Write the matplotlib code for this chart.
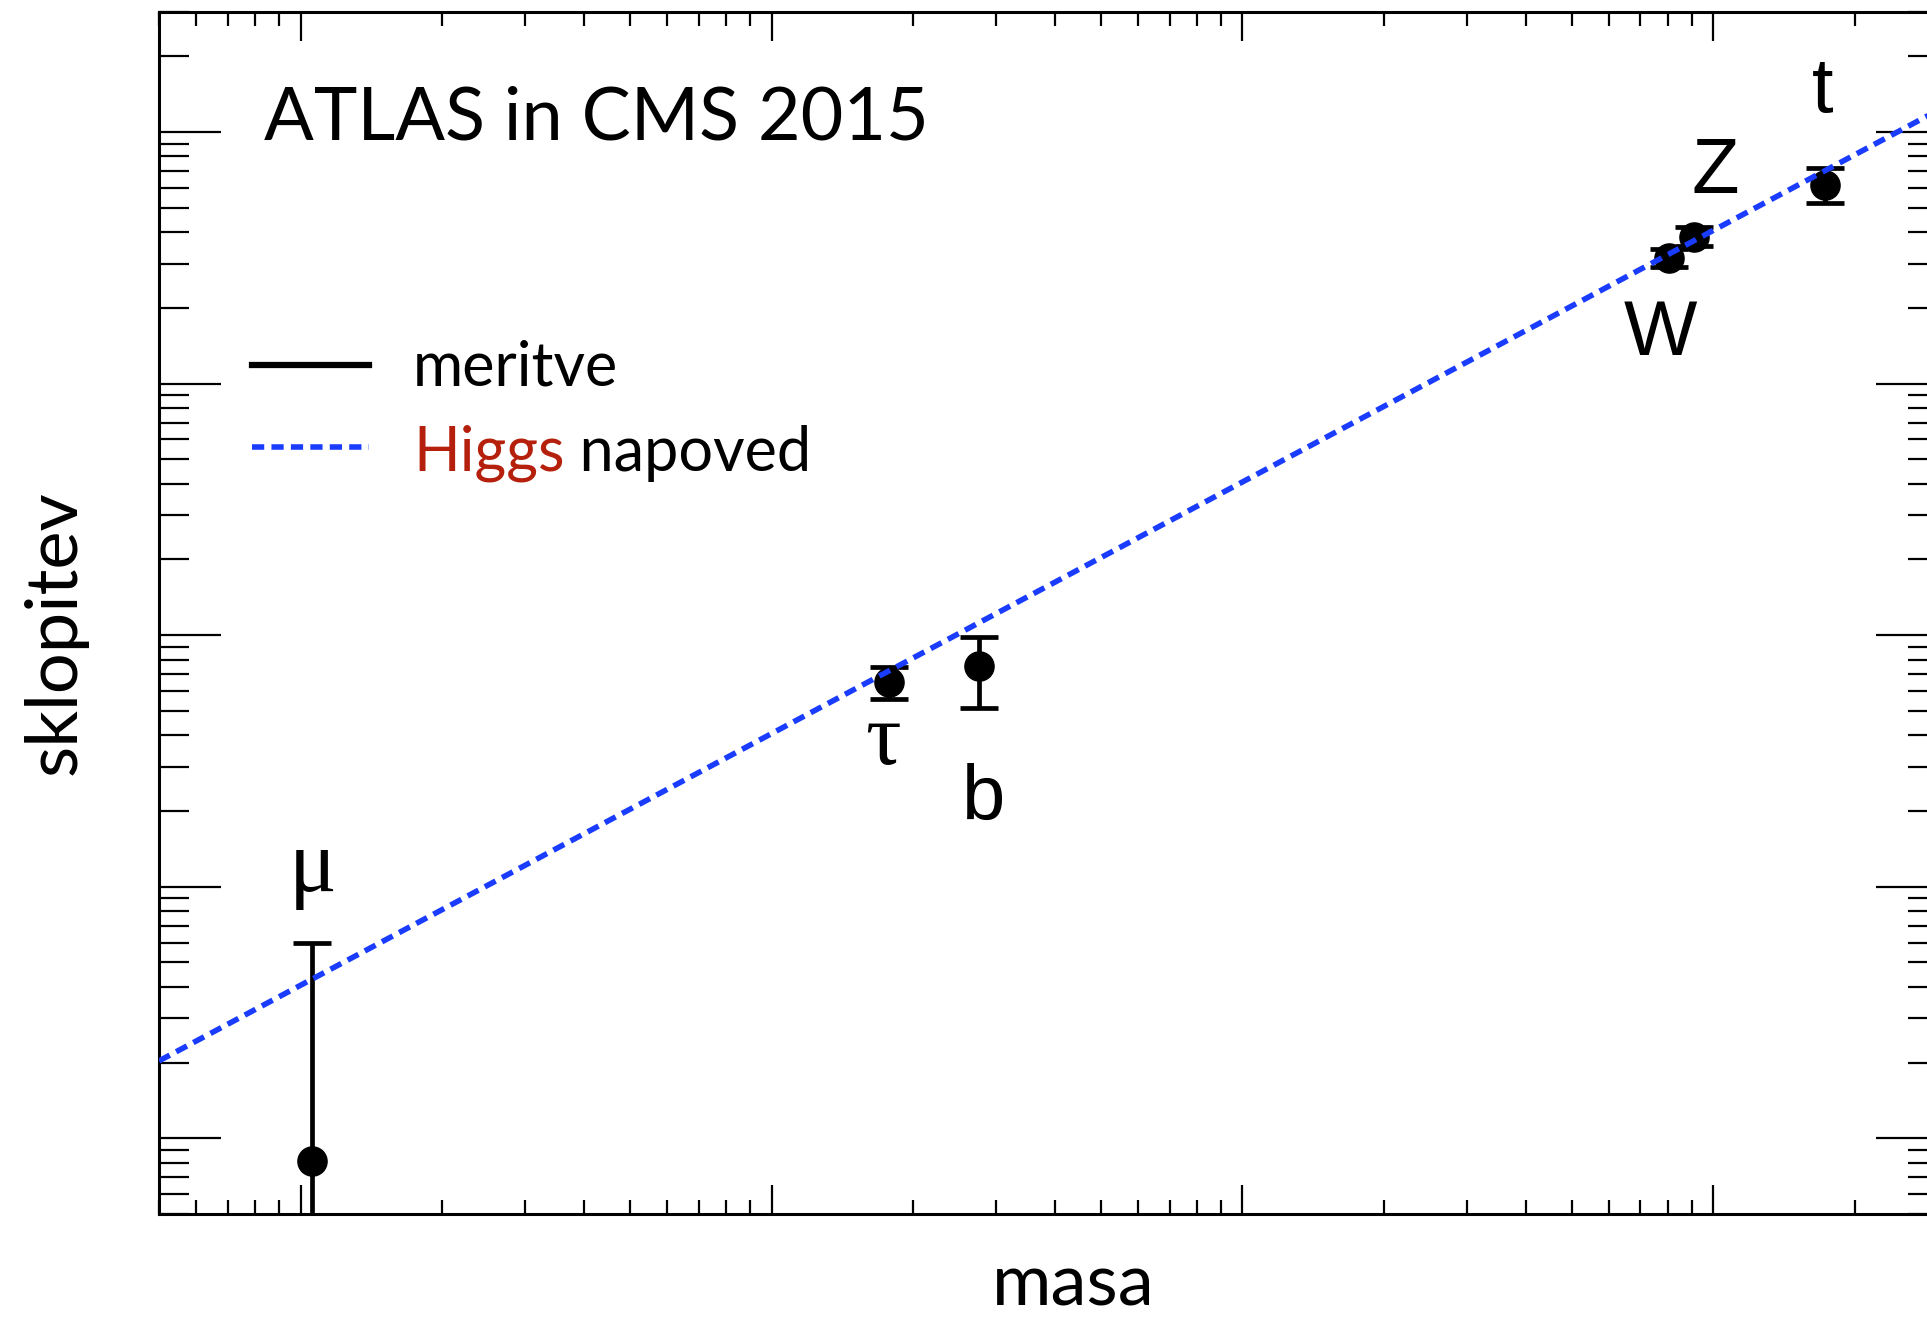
import matplotlib
matplotlib.use("Agg")
import matplotlib.pyplot as plt
from matplotlib.lines import Line2D
from matplotlib.ticker import LogLocator, NullFormatter

particles = ['μ', 'τ', 'b', 'W', 'Z', 't']
mass = [0.1057, 1.777, 2.76, 80.4, 91.19, 172.5]
coupling = [8.1e-5, 6.53e-3, 7.55e-3, 0.316, 0.383, 0.616]
coupling_lo = [1e-5, 5.58e-3, 5.12e-3, 0.290, 0.351, 0.522]
coupling_hi = [6.0e-4, 7.5e-3, 9.87e-3, 0.344, 0.418, 0.719]

# Higgs prediction (m / v)
pred_mass = [0.05, 300]
pred_coupling = [2.03e-4, 1.22]

# label offsets in pixels from each point
label_dx = [1, -6, 4, -8, 21, -2]
label_dy = [270, -82, -154, -97, 44, 73]
greek = ['μ', 'τ']

W, H = 1927, 1317
fig = plt.figure(figsize=(W / 100, H / 100), dpi=100)
ax = fig.add_axes([159 / W, 103 / H, (1938 - 159) / W, (1214 - 12) / H])

ax.set_xscale('log')
ax.set_yscale('log')
ax.set_xlim(0.05, 300)
ax.set_ylim(5e-5, 3)

blue = '#1a3cff'
dash = (2.2, 1.3)

lo_err = [c - l for c, l in zip(coupling, coupling_lo)]
hi_err = [h - c for c, h in zip(coupling, coupling_hi)]
ax.errorbar(mass, coupling, yerr=[lo_err, hi_err], fmt='o', color='black',
            ms=21, elinewidth=3.4, capsize=13.7, capthick=3.4, zorder=3)
ax.plot(pred_mass, pred_coupling, color=blue, lw=4.0, dashes=dash, zorder=4)

for i, p in enumerate(particles):
    fam = ['Liberation Serif'] if p in greek else ['Liberation Sans']
    ax.annotate(p, xy=(mass[i], coupling[i]), xytext=(label_dx[i], label_dy[i]),
                textcoords='offset pixels', ha='center', va='baseline',
                fontsize=56 if p not in greek else 64, family=fam, color='black')

# axes styling
for s in ax.spines.values():
    s.set_linewidth(2.2)
ax.xaxis.set_major_locator(LogLocator(base=10, numticks=20))
ax.xaxis.set_minor_locator(LogLocator(base=10, subs=range(2, 10), numticks=20))
ax.yaxis.set_major_locator(LogLocator(base=10, numticks=20))
ax.yaxis.set_minor_locator(LogLocator(base=10, subs=range(2, 10), numticks=20))
ax.xaxis.set_major_formatter(NullFormatter())
ax.xaxis.set_minor_formatter(NullFormatter())
ax.yaxis.set_major_formatter(NullFormatter())
ax.yaxis.set_minor_formatter(NullFormatter())
ax.tick_params(axis='x', which='major', direction='in', top=True, bottom=True,
               length=20.9, width=1.6)
ax.tick_params(axis='x', which='minor', direction='in', top=True, bottom=True,
               length=10, width=1.6)
ax.tick_params(axis='y', which='major', direction='in', left=True, right=True,
               length=44.6, width=1.6)
ax.tick_params(axis='y', which='minor', direction='in', left=True, right=True,
               length=21.6, width=1.6)

font = ['Lato', 'DejaVu Sans']
fig.text(264 / W, 1 - 139 / H, 'ATLAS in CMS 2015', fontsize=53, family=font,
         ha='left', va='baseline')

# legend
fig.add_artist(Line2D([252 / W, 369 / W], [1 - 365 / H, 1 - 365 / H],
                      color='black', lw=4.5))
fig.add_artist(Line2D([252 / W, 369 / W], [1 - 447 / H, 1 - 447 / H],
                      color=blue, lw=4.0, dashes=dash))
fig.text(413 / W, 1 - 385 / H, 'meritve', fontsize=44, family=font,
         ha='left', va='baseline')
higgs = fig.text(413 / W, 1 - 471 / H, 'Higgs', fontsize=44, family=font,
                 color='#b5200d', ha='left', va='baseline')
# place "napoved" right after "Higgs"
fig.canvas.draw()
bb = higgs.get_window_extent()
fig.text(bb.x1 / W, 1 - 471 / H, ' napoved', fontsize=44, family=font,
         ha='left', va='baseline')

fig.text(1073 / W, 1 - 1305 / H, 'masa', fontsize=52, family=font,
         ha='center', va='baseline')
fig.text(55 / W, 1 - 633 / H, 'sklopitev', fontsize=52, family=font,
         rotation=90, ha='center', va='center')

fig.savefig('out.png', dpi=100)
